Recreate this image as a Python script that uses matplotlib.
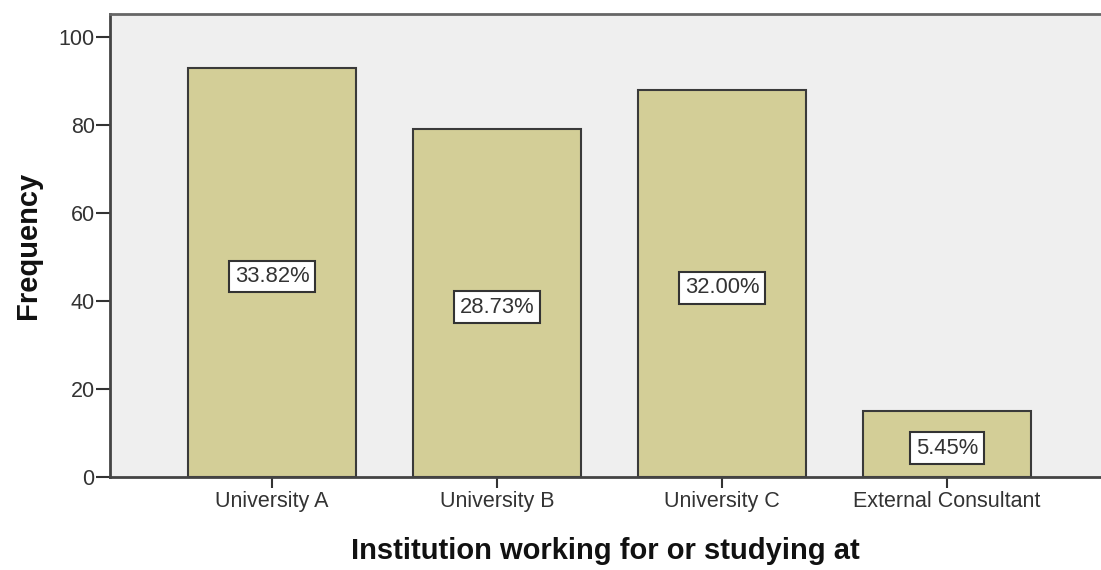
import matplotlib
matplotlib.use("Agg")
import matplotlib.pyplot as plt

# Respondents by institution
categories = ["University A", "University B", "University C", "External Consultant"]
counts = [93, 79, 88, 15]
percent_labels = ["33.82%", "28.73%", "32.00%", "5.45%"]
y_ticks = [0, 20, 40, 60, 80, 100]

plt.rcParams["font.family"] = ["Liberation Sans", "DejaVu Sans"]

W, H = 1101, 570
fig = plt.figure(figsize=(W / 100, H / 100), dpi=100)
ax = fig.add_axes([110 / W, (H - 477) / H, 1 - 110 / W, (477 - 14) / H])

ax.set_facecolor("#efefef")
x = list(range(len(categories)))
ax.bar(x, counts, width=0.75, color="#d3ce97", edgecolor="#3a3a3a", linewidth=1.5, zorder=2)

for xi, c, lab in zip(x, counts, percent_labels):
    ax.annotate(lab, (xi, c / 2), xytext=(0, -3), textcoords="offset points",
                ha="center", va="center", fontsize=15.8, color="#333333", zorder=3,
                bbox=dict(boxstyle="square,pad=0.25", facecolor="white",
                          edgecolor="#333333", linewidth=1.5))

ax.set_xlim(-0.72, 3.684)
ax.set_ylim(0, 105.2)
ax.set_yticks(y_ticks)
ax.set_xticks(x)
ax.set_xticklabels(categories)
ax.tick_params(axis="both", labelsize=15.5, colors="#333333", width=1.5, length=8, pad=2)
ax.tick_params(axis="y", length=10, pad=1)

for side in ("left", "bottom", "top"):
    ax.spines[side].set_color("#444444")
    ax.spines[side].set_linewidth(2)
ax.spines["top"].set_color("#666666")
ax.spines["right"].set_visible(False)

ax.set_xlabel("Institution working for or studying at", fontsize=21, fontweight="bold",
              color="#111111", labelpad=18)
ax.set_ylabel("Frequency", fontsize=21, fontweight="bold", color="#111111", labelpad=12)

fig.savefig("out.png", dpi=100)
